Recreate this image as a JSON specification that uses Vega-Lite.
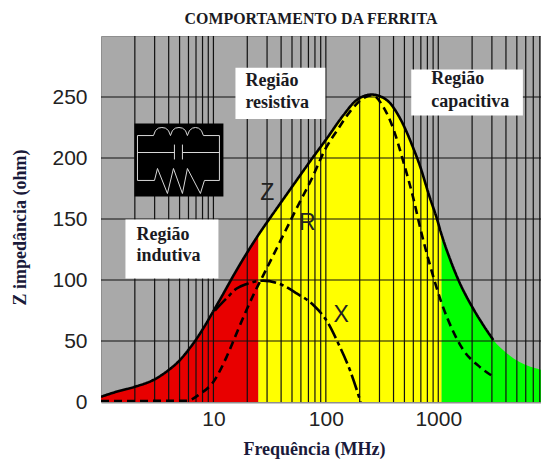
{"$schema":"https://vega.github.io/schema/vega-lite/v6.json","width":440,"height":366,"autosize":{"type":"none"},"padding":{"left":101,"top":36,"right":0,"bottom":59},"background":"white","view":{"fill":"#a9a9a9","stroke":"#8f8f8f"},"title":{"text":"COMPORTAMENTO DA FERRITA","font":"Liberation Serif","fontSize":15.9,"fontWeight":"bold","color":"#1a1a22","anchor":"middle","dx":-10,"offset":9},"datasets":{"area":[{"f":1,"z":4.3,"region":"ind"},{"f":1.48,"z":9.3,"region":"ind"},{"f":2,"z":12.5,"region":"ind"},{"f":3,"z":18.6,"region":"ind"},{"f":3.97,"z":26,"region":"ind"},{"f":5.04,"z":34.4,"region":"ind"},{"f":5.98,"z":42.6,"region":"ind"},{"f":6.86,"z":50,"region":"ind"},{"f":8.13,"z":60.4,"region":"ind"},{"f":10,"z":74.6,"region":"ind"},{"f":12.2,"z":88.5,"region":"ind"},{"f":15,"z":103.3,"region":"ind"},{"f":25.1,"z":136.9,"region":"ind"},{"f":25.1,"z":136.9,"region":"res"},{"f":35.3,"z":156.6,"region":"res"},{"f":51.4,"z":177.9,"region":"res"},{"f":77.4,"z":201,"region":"res"},{"f":102,"z":216,"region":"res"},{"f":143,"z":235,"region":"res"},{"f":188,"z":247.5,"region":"res"},{"f":256,"z":252,"region":"res"},{"f":348,"z":247.5,"region":"res"},{"f":457,"z":232.5,"region":"res"},{"f":600,"z":208,"region":"res"},{"f":688,"z":193.4,"region":"res"},{"f":832,"z":168.9,"region":"res"},{"f":968,"z":150.8,"region":"res"},{"f":1072,"z":136.9,"region":"res"},{"f":1072,"z":136.9,"region":"cap"},{"f":1271,"z":117.2,"region":"cap"},{"f":1538,"z":98.4,"region":"cap"},{"f":1982,"z":78.7,"region":"cap"},{"f":2512,"z":63.1,"region":"cap"},{"f":3090,"z":50.8,"region":"cap"},{"f":4064,"z":40,"region":"cap"},{"f":5333,"z":32.5,"region":"cap"},{"f":8200,"z":26.5,"region":"cap"}],"curves":[{"f":1,"v":4.3,"s":"Z"},{"f":1.48,"v":9.3,"s":"Z"},{"f":2,"v":12.5,"s":"Z"},{"f":3,"v":18.6,"s":"Z"},{"f":3.97,"v":26,"s":"Z"},{"f":5.04,"v":34.4,"s":"Z"},{"f":5.98,"v":42.6,"s":"Z"},{"f":6.86,"v":50,"s":"Z"},{"f":8.13,"v":60.4,"s":"Z"},{"f":10,"v":74.6,"s":"Z"},{"f":12.2,"v":88.5,"s":"Z"},{"f":15,"v":103.3,"s":"Z"},{"f":25.1,"v":136.9,"s":"Z"},{"f":35.3,"v":156.6,"s":"Z"},{"f":51.4,"v":177.9,"s":"Z"},{"f":77.4,"v":201,"s":"Z"},{"f":102,"v":216,"s":"Z"},{"f":143,"v":235,"s":"Z"},{"f":188,"v":247.5,"s":"Z"},{"f":256,"v":252,"s":"Z"},{"f":348,"v":247.5,"s":"Z"},{"f":457,"v":232.5,"s":"Z"},{"f":600,"v":208,"s":"Z"},{"f":688,"v":193.4,"s":"Z"},{"f":832,"v":168.9,"s":"Z"},{"f":968,"v":150.8,"s":"Z"},{"f":1072,"v":136.9,"s":"Z"},{"f":1271,"v":117.2,"s":"Z"},{"f":1538,"v":98.4,"s":"Z"},{"f":1982,"v":78.7,"s":"Z"},{"f":2512,"v":63.1,"s":"Z"},{"f":3090,"v":50.8,"s":"Z"},{"f":1,"v":0.8,"s":"R"},{"f":5.8,"v":1,"s":"R"},{"f":7.6,"v":6.6,"s":"R"},{"f":10,"v":16.6,"s":"R"},{"f":13.1,"v":37,"s":"R"},{"f":15.6,"v":53.5,"s":"R"},{"f":19.1,"v":72.7,"s":"R"},{"f":23.4,"v":90.4,"s":"R"},{"f":27.8,"v":104,"s":"R"},{"f":43.3,"v":139.6,"s":"R"},{"f":56.9,"v":161.5,"s":"R"},{"f":74.9,"v":183,"s":"R"},{"f":98,"v":206.6,"s":"R"},{"f":129,"v":224,"s":"R"},{"f":164,"v":238,"s":"R"},{"f":215,"v":249,"s":"R"},{"f":258,"v":251.5,"s":"R"},{"f":324,"v":242,"s":"R"},{"f":398,"v":224,"s":"R"},{"f":489,"v":197,"s":"R"},{"f":600,"v":167,"s":"R"},{"f":698,"v":141,"s":"R"},{"f":845,"v":112,"s":"R"},{"f":1072,"v":81,"s":"R"},{"f":1361,"v":57.6,"s":"R"},{"f":1671,"v":42.6,"s":"R"},{"f":2270,"v":29.8,"s":"R"},{"f":3090,"v":20.7,"s":"R"},{"f":10.3,"v":75,"s":"X"},{"f":13.1,"v":85,"s":"X"},{"f":16.1,"v":93,"s":"X"},{"f":19.8,"v":96.7,"s":"X"},{"f":27.8,"v":99.5,"s":"X"},{"f":39.1,"v":96.7,"s":"X"},{"f":55,"v":89,"s":"X"},{"f":77.4,"v":79.5,"s":"X"},{"f":105,"v":64.5,"s":"X"},{"f":129,"v":48,"s":"X"},{"f":164,"v":26,"s":"X"},{"f":204,"v":0,"s":"X"}],"boxes":[{"f1":15.7,"f2":99,"v1":232,"v2":274},{"f1":575,"f2":5660,"v1":234.8,"v2":272.5},{"f1":1.65,"f2":11.08,"v1":101.2,"v2":149.6}],"icon":[{"f1":1.985,"f2":12.27,"v1":168.4,"v2":228.3}],"wires":[{"p":"top","o":1,"f":2.11,"v":181.6},{"p":"top","o":2,"f":2.11,"v":218.4},{"p":"top","o":3,"f":2.93,"v":218.4},{"p":"top","o":4,"f":3.05,"v":222.5},{"p":"top","o":5,"f":3.24,"v":224.5},{"p":"top","o":6,"f":3.48,"v":225},{"p":"top","o":7,"f":3.74,"v":224.5},{"p":"top","o":8,"f":3.98,"v":222.5},{"p":"top","o":9,"f":4.15,"v":218.4},{"p":"top","o":10,"f":4.32,"v":222.5},{"p":"top","o":11,"f":4.59,"v":224.5},{"p":"top","o":12,"f":4.94,"v":225},{"p":"top","o":13,"f":5.3,"v":224.5},{"p":"top","o":14,"f":5.64,"v":222.5},{"p":"top","o":15,"f":5.87,"v":218.4},{"p":"top","o":16,"f":6.12,"v":222.5},{"p":"top","o":17,"f":6.51,"v":224.5},{"p":"top","o":18,"f":6.92,"v":225},{"p":"top","o":19,"f":7.36,"v":224.5},{"p":"top","o":20,"f":7.82,"v":222.5},{"p":"top","o":21,"f":8.15,"v":218.4},{"p":"top","o":22,"f":11.31,"v":218.4},{"p":"top","o":23,"f":11.31,"v":181.6},{"p":"midL","o":1,"f":2.11,"v":204.5},{"p":"midL","o":2,"f":4.5,"v":204.5},{"p":"plateL","o":1,"f":4.5,"v":211},{"p":"plateL","o":2,"f":4.5,"v":198.8},{"p":"plateR","o":1,"f":5.3,"v":211},{"p":"plateR","o":2,"f":5.3,"v":198.8},{"p":"midR","o":1,"f":5.3,"v":204.5},{"p":"midR","o":2,"f":11.31,"v":204.5},{"p":"res","o":1,"f":2.11,"v":181.6},{"p":"res","o":2,"f":2.99,"v":181.6},{"p":"res","o":3,"f":3.18,"v":191.4},{"p":"res","o":4,"f":3.9,"v":170.9},{"p":"res","o":5,"f":4.41,"v":191.4},{"p":"res","o":6,"f":5.3,"v":170.9},{"p":"res","o":7,"f":5.87,"v":191.4},{"p":"res","o":8,"f":7.66,"v":170.9},{"p":"res","o":9,"f":8.32,"v":181.6},{"p":"res","o":10,"f":11.31,"v":181.6}],"vgrid":[{"f":2},{"f":3},{"f":4},{"f":5},{"f":6},{"f":7},{"f":8},{"f":9},{"f":10},{"f":20},{"f":30},{"f":40},{"f":50},{"f":60},{"f":70},{"f":80},{"f":90},{"f":100},{"f":200},{"f":300},{"f":400},{"f":500},{"f":600},{"f":700},{"f":800},{"f":900},{"f":1000},{"f":2000},{"f":3000},{"f":4000},{"f":5000},{"f":6000},{"f":7000},{"f":8000}],"hgrid":[{"v":50},{"v":100},{"v":150},{"v":200},{"v":250}],"labels":[{"f":30.2,"v":171,"t":"Z"},{"f":68.5,"v":147,"t":"R"},{"f":137,"v":71,"t":"X"}],"regions":[{"f":19.25,"v":263.5,"t":"Região"},{"f":19.25,"v":244.7,"t":"resistiva"},{"f":2.07,"v":136.5,"t":"Região"},{"f":2.07,"v":119.3,"t":"indutiva"},{"f":867,"v":265,"t":"Região"},{"f":867,"v":246.3,"t":"capacitiva"}]},"layer":[{"data":{"name":"area"},"mark":{"type":"area","interpolate":"monotone","clip":true},"encoding":{"x":{"field":"f","type":"quantitative","scale":{"type":"log","domain":[1,8200],"nice":false},"axis":{"values":[10,100,1000],"format":"d","grid":false,"ticks":false,"domainColor":"#8f8f8f","domainWidth":2,"labelFont":"Liberation Sans","labelFontSize":21,"labelColor":"#222222","labelPadding":6,"labelFlush":false,"title":"Frequência (MHz)","titleFont":"Liberation Serif","titleFontSize":18,"titleFontWeight":"bold","titleColor":"#1a1a3a","titleX":213,"titleY":38}},"y":{"field":"z","type":"quantitative","stack":null,"scale":{"domain":[0,300],"nice":false},"axis":{"values":[0,50,100,150,200,250],"grid":false,"ticks":false,"domain":false,"labelFont":"Liberation Sans","labelFontSize":21,"labelColor":"#222222","labelPadding":14,"title":"Z impedância (ohm)","titleFont":"Liberation Serif","titleFontSize":18,"titleFontWeight":"bold","titleColor":"#1a1a3a","titleX":-72,"titleY":191}},"color":{"field":"region","type":"nominal","scale":{"domain":["ind","res","cap"],"range":["#e80000","#ffff00","#00ff00"]},"legend":null}}},{"data":{"name":"vgrid"},"mark":{"type":"rule","color":"#111111","strokeWidth":1.2},"encoding":{"x":{"field":"f","type":"quantitative"}}},{"data":{"name":"hgrid"},"mark":{"type":"rule","color":"#111111","strokeWidth":1.2},"encoding":{"y":{"field":"v","type":"quantitative"}}},{"data":{"name":"boxes"},"mark":{"type":"rect","color":"white"},"encoding":{"x":{"field":"f1","type":"quantitative"},"x2":{"field":"f2"},"y":{"field":"v1","type":"quantitative"},"y2":{"field":"v2"}}},{"data":{"name":"icon"},"mark":{"type":"rect","color":"black"},"encoding":{"x":{"field":"f1","type":"quantitative"},"x2":{"field":"f2"},"y":{"field":"v1","type":"quantitative"},"y2":{"field":"v2"}}},{"data":{"name":"wires"},"mark":{"type":"line","color":"#d8d8d8","strokeWidth":1},"encoding":{"x":{"field":"f","type":"quantitative"},"y":{"field":"v","type":"quantitative"},"detail":{"field":"p"},"order":{"field":"o"}}},{"data":{"name":"curves"},"mark":{"type":"line","color":"black","strokeWidth":2.6,"interpolate":"monotone","clip":true},"encoding":{"x":{"field":"f","type":"quantitative"},"y":{"field":"v","type":"quantitative"},"strokeDash":{"field":"s","type":"nominal","scale":{"domain":["Z","R","X"],"range":[[1,0],[8,5],[16,4,4,4]]},"legend":null}}},{"data":{"name":"labels"},"mark":{"type":"text","font":"Liberation Sans","fontSize":23,"color":"#222222","align":"center","baseline":"middle"},"encoding":{"x":{"field":"f","type":"quantitative"},"y":{"field":"v","type":"quantitative"},"text":{"field":"t"}}},{"data":{"name":"regions"},"mark":{"type":"text","font":"Liberation Serif","fontSize":18,"fontWeight":"bold","color":"#1a1a22","align":"left","baseline":"middle"},"encoding":{"x":{"field":"f","type":"quantitative"},"y":{"field":"v","type":"quantitative"},"text":{"field":"t"}}}]}
